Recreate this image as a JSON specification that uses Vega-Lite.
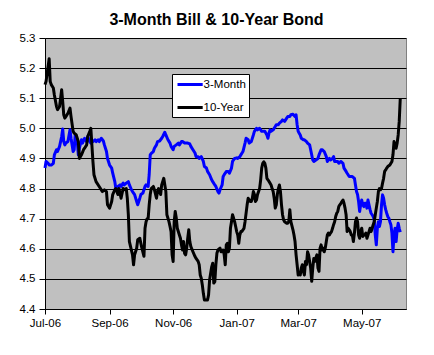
{
  "$schema": "https://vega.github.io/schema/vega-lite/v6.json",
  "width": 361,
  "height": 271,
  "autosize": {"type": "none"},
  "padding": {"left": 45, "top": 38, "right": 28, "bottom": 46},
  "background": "white",
  "config": {
    "font": "Liberation Sans",
    "view": {"fill": "#C0C0C0", "stroke": "#808080", "strokeWidth": 1}
  },
  "title": {
    "text": "3-Month Bill & 10-Year Bond",
    "font": "Liberation Sans",
    "fontSize": 16,
    "fontWeight": "bold",
    "color": "black",
    "anchor": "middle",
    "frame": "group",
    "dx": -9,
    "offset": 4
  },
  "data": {
    "values": [
      {"series":"3-Month","date":"2006-07-01","yield":4.868},
      {"series":"3-Month","date":"2006-07-02","yield":4.89},
      {"series":"3-Month","date":"2006-07-04","yield":4.884},
      {"series":"3-Month","date":"2006-07-05","yield":4.878},
      {"series":"3-Month","date":"2006-07-07","yield":4.878},
      {"series":"3-Month","date":"2006-07-09","yield":4.884},
      {"series":"3-Month","date":"2006-07-10","yield":4.912},
      {"series":"3-Month","date":"2006-07-12","yield":4.929},
      {"series":"3-Month","date":"2006-07-13","yield":4.923},
      {"series":"3-Month","date":"2006-07-15","yield":4.94},
      {"series":"3-Month","date":"2006-07-17","yield":4.973},
      {"series":"3-Month","date":"2006-07-18","yield":4.998},
      {"series":"3-Month","date":"2006-07-19","yield":4.956},
      {"series":"3-Month","date":"2006-07-20","yield":4.945},
      {"series":"3-Month","date":"2006-07-21","yield":4.951},
      {"series":"3-Month","date":"2006-07-23","yield":4.956},
      {"series":"3-Month","date":"2006-07-25","yield":4.995},
      {"series":"3-Month","date":"2006-07-26","yield":4.967},
      {"series":"3-Month","date":"2006-07-28","yield":4.923},
      {"series":"3-Month","date":"2006-07-29","yield":4.929},
      {"series":"3-Month","date":"2006-07-30","yield":4.978},
      {"series":"3-Month","date":"2006-08-01","yield":4.956},
      {"series":"3-Month","date":"2006-08-02","yield":4.912},
      {"series":"3-Month","date":"2006-08-03","yield":4.934},
      {"series":"3-Month","date":"2006-08-05","yield":4.962},
      {"series":"3-Month","date":"2006-08-06","yield":4.951},
      {"series":"3-Month","date":"2006-08-08","yield":4.967},
      {"series":"3-Month","date":"2006-08-10","yield":4.956},
      {"series":"3-Month","date":"2006-08-11","yield":4.973},
      {"series":"3-Month","date":"2006-08-13","yield":4.956},
      {"series":"3-Month","date":"2006-08-14","yield":4.951},
      {"series":"3-Month","date":"2006-08-16","yield":4.956},
      {"series":"3-Month","date":"2006-08-18","yield":4.962},
      {"series":"3-Month","date":"2006-08-19","yield":4.956},
      {"series":"3-Month","date":"2006-08-21","yield":4.962},
      {"series":"3-Month","date":"2006-08-22","yield":4.956},
      {"series":"3-Month","date":"2006-08-24","yield":4.967},
      {"series":"3-Month","date":"2006-08-26","yield":4.958},
      {"series":"3-Month","date":"2006-08-27","yield":4.945},
      {"series":"3-Month","date":"2006-08-29","yield":4.923},
      {"series":"3-Month","date":"2006-08-30","yield":4.9},
      {"series":"3-Month","date":"2006-09-01","yield":4.878},
      {"series":"3-Month","date":"2006-09-03","yield":4.868},
      {"series":"3-Month","date":"2006-09-04","yield":4.851},
      {"series":"3-Month","date":"2006-09-06","yield":4.823},
      {"series":"3-Month","date":"2006-09-07","yield":4.8},
      {"series":"3-Month","date":"2006-09-09","yield":4.807},
      {"series":"3-Month","date":"2006-09-11","yield":4.812},
      {"series":"3-Month","date":"2006-09-12","yield":4.807},
      {"series":"3-Month","date":"2006-09-14","yield":4.818},
      {"series":"3-Month","date":"2006-09-15","yield":4.812},
      {"series":"3-Month","date":"2006-09-17","yield":4.818},
      {"series":"3-Month","date":"2006-09-19","yield":4.823},
      {"series":"3-Month","date":"2006-09-20","yield":4.812},
      {"series":"3-Month","date":"2006-09-22","yield":4.796},
      {"series":"3-Month","date":"2006-09-23","yield":4.79},
      {"series":"3-Month","date":"2006-09-25","yield":4.78},
      {"series":"3-Month","date":"2006-09-27","yield":4.757},
      {"series":"3-Month","date":"2006-09-28","yield":4.746},
      {"series":"3-Month","date":"2006-09-30","yield":4.768},
      {"series":"3-Month","date":"2006-10-01","yield":4.78},
      {"series":"3-Month","date":"2006-10-03","yield":4.785},
      {"series":"3-Month","date":"2006-10-05","yield":4.807},
      {"series":"3-Month","date":"2006-10-06","yield":4.812},
      {"series":"3-Month","date":"2006-10-08","yield":4.807},
      {"series":"3-Month","date":"2006-10-09","yield":4.846},
      {"series":"3-Month","date":"2006-10-10","yield":4.912},
      {"series":"3-Month","date":"2006-10-11","yield":4.917},
      {"series":"3-Month","date":"2006-10-13","yield":4.923},
      {"series":"3-Month","date":"2006-10-14","yield":4.934},
      {"series":"3-Month","date":"2006-10-16","yield":4.945},
      {"series":"3-Month","date":"2006-10-17","yield":4.956},
      {"series":"3-Month","date":"2006-10-19","yield":4.958},
      {"series":"3-Month","date":"2006-10-21","yield":4.967},
      {"series":"3-Month","date":"2006-10-22","yield":4.973},
      {"series":"3-Month","date":"2006-10-24","yield":4.987},
      {"series":"3-Month","date":"2006-10-25","yield":4.978},
      {"series":"3-Month","date":"2006-10-27","yield":4.962},
      {"series":"3-Month","date":"2006-10-29","yield":4.951},
      {"series":"3-Month","date":"2006-10-30","yield":4.94},
      {"series":"3-Month","date":"2006-11-01","yield":4.929},
      {"series":"3-Month","date":"2006-11-02","yield":4.94},
      {"series":"3-Month","date":"2006-11-04","yield":4.945},
      {"series":"3-Month","date":"2006-11-06","yield":4.951},
      {"series":"3-Month","date":"2006-11-07","yield":4.945},
      {"series":"3-Month","date":"2006-11-09","yield":4.956},
      {"series":"3-Month","date":"2006-11-10","yield":4.956},
      {"series":"3-Month","date":"2006-11-12","yield":4.951},
      {"series":"3-Month","date":"2006-11-14","yield":4.951},
      {"series":"3-Month","date":"2006-11-15","yield":4.951},
      {"series":"3-Month","date":"2006-11-17","yield":4.948},
      {"series":"3-Month","date":"2006-11-18","yield":4.94},
      {"series":"3-Month","date":"2006-11-20","yield":4.929},
      {"series":"3-Month","date":"2006-11-22","yield":4.918},
      {"series":"3-Month","date":"2006-11-23","yield":4.906},
      {"series":"3-Month","date":"2006-11-25","yield":4.906},
      {"series":"3-Month","date":"2006-11-26","yield":4.9},
      {"series":"3-Month","date":"2006-11-28","yield":4.906},
      {"series":"3-Month","date":"2006-11-30","yield":4.89},
      {"series":"3-Month","date":"2006-12-01","yield":4.873},
      {"series":"3-Month","date":"2006-12-03","yield":4.868},
      {"series":"3-Month","date":"2006-12-04","yield":4.857},
      {"series":"3-Month","date":"2006-12-06","yield":4.846},
      {"series":"3-Month","date":"2006-12-08","yield":4.829},
      {"series":"3-Month","date":"2006-12-09","yield":4.823},
      {"series":"3-Month","date":"2006-12-11","yield":4.812},
      {"series":"3-Month","date":"2006-12-12","yield":4.807},
      {"series":"3-Month","date":"2006-12-14","yield":4.79},
      {"series":"3-Month","date":"2006-12-15","yield":4.785},
      {"series":"3-Month","date":"2006-12-16","yield":4.796},
      {"series":"3-Month","date":"2006-12-18","yield":4.812},
      {"series":"3-Month","date":"2006-12-19","yield":4.84},
      {"series":"3-Month","date":"2006-12-20","yield":4.846},
      {"series":"3-Month","date":"2006-12-21","yield":4.851},
      {"series":"3-Month","date":"2006-12-22","yield":4.857},
      {"series":"3-Month","date":"2006-12-24","yield":4.857},
      {"series":"3-Month","date":"2006-12-25","yield":4.851},
      {"series":"3-Month","date":"2006-12-27","yield":4.868},
      {"series":"3-Month","date":"2006-12-28","yield":4.89},
      {"series":"3-Month","date":"2006-12-30","yield":4.9},
      {"series":"3-Month","date":"2007-01-01","yield":4.902},
      {"series":"3-Month","date":"2007-01-02","yield":4.9},
      {"series":"3-Month","date":"2007-01-04","yield":4.906},
      {"series":"3-Month","date":"2007-01-05","yield":4.912},
      {"series":"3-Month","date":"2007-01-07","yield":4.923},
      {"series":"3-Month","date":"2007-01-09","yield":4.951},
      {"series":"3-Month","date":"2007-01-10","yield":4.967},
      {"series":"3-Month","date":"2007-01-12","yield":4.962},
      {"series":"3-Month","date":"2007-01-13","yield":4.951},
      {"series":"3-Month","date":"2007-01-15","yield":4.956},
      {"series":"3-Month","date":"2007-01-17","yield":4.978},
      {"series":"3-Month","date":"2007-01-18","yield":4.99},
      {"series":"3-Month","date":"2007-01-20","yield":5.0},
      {"series":"3-Month","date":"2007-01-21","yield":4.995},
      {"series":"3-Month","date":"2007-01-23","yield":5.0},
      {"series":"3-Month","date":"2007-01-25","yield":4.99},
      {"series":"3-Month","date":"2007-01-27","yield":4.99},
      {"series":"3-Month","date":"2007-01-28","yield":4.99},
      {"series":"3-Month","date":"2007-01-30","yield":4.978},
      {"series":"3-Month","date":"2007-01-31","yield":4.967},
      {"series":"3-Month","date":"2007-02-01","yield":4.984},
      {"series":"3-Month","date":"2007-02-02","yield":4.995},
      {"series":"3-Month","date":"2007-02-03","yield":4.99},
      {"series":"3-Month","date":"2007-02-05","yield":4.995},
      {"series":"3-Month","date":"2007-02-07","yield":5.006},
      {"series":"3-Month","date":"2007-02-08","yield":5.012},
      {"series":"3-Month","date":"2007-02-10","yield":5.012},
      {"series":"3-Month","date":"2007-02-11","yield":5.017},
      {"series":"3-Month","date":"2007-02-13","yield":5.023},
      {"series":"3-Month","date":"2007-02-14","yield":5.028},
      {"series":"3-Month","date":"2007-02-16","yield":5.023},
      {"series":"3-Month","date":"2007-02-18","yield":5.034},
      {"series":"3-Month","date":"2007-02-19","yield":5.039},
      {"series":"3-Month","date":"2007-02-21","yield":5.039},
      {"series":"3-Month","date":"2007-02-22","yield":5.045},
      {"series":"3-Month","date":"2007-02-24","yield":5.047},
      {"series":"3-Month","date":"2007-02-26","yield":5.039},
      {"series":"3-Month","date":"2007-02-27","yield":5.045},
      {"series":"3-Month","date":"2007-02-28","yield":5.012},
      {"series":"3-Month","date":"2007-03-01","yield":4.99},
      {"series":"3-Month","date":"2007-03-02","yield":4.984},
      {"series":"3-Month","date":"2007-03-03","yield":4.978},
      {"series":"3-Month","date":"2007-03-04","yield":4.967},
      {"series":"3-Month","date":"2007-03-06","yield":4.962},
      {"series":"3-Month","date":"2007-03-07","yield":4.962},
      {"series":"3-Month","date":"2007-03-09","yield":4.956},
      {"series":"3-Month","date":"2007-03-10","yield":4.951},
      {"series":"3-Month","date":"2007-03-12","yield":4.945},
      {"series":"3-Month","date":"2007-03-13","yield":4.929},
      {"series":"3-Month","date":"2007-03-15","yield":4.895},
      {"series":"3-Month","date":"2007-03-16","yield":4.89},
      {"series":"3-Month","date":"2007-03-18","yield":4.895},
      {"series":"3-Month","date":"2007-03-20","yield":4.9},
      {"series":"3-Month","date":"2007-03-21","yield":4.912},
      {"series":"3-Month","date":"2007-03-23","yield":4.929},
      {"series":"3-Month","date":"2007-03-24","yield":4.929},
      {"series":"3-Month","date":"2007-03-26","yield":4.923},
      {"series":"3-Month","date":"2007-03-28","yield":4.906},
      {"series":"3-Month","date":"2007-03-29","yield":4.89},
      {"series":"3-Month","date":"2007-03-31","yield":4.9},
      {"series":"3-Month","date":"2007-04-01","yield":4.895},
      {"series":"3-Month","date":"2007-04-03","yield":4.9},
      {"series":"3-Month","date":"2007-04-04","yield":4.906},
      {"series":"3-Month","date":"2007-04-05","yield":4.89},
      {"series":"3-Month","date":"2007-04-06","yield":4.89},
      {"series":"3-Month","date":"2007-04-08","yield":4.89},
      {"series":"3-Month","date":"2007-04-09","yield":4.884},
      {"series":"3-Month","date":"2007-04-11","yield":4.89},
      {"series":"3-Month","date":"2007-04-13","yield":4.884},
      {"series":"3-Month","date":"2007-04-14","yield":4.868},
      {"series":"3-Month","date":"2007-04-16","yield":4.857},
      {"series":"3-Month","date":"2007-04-17","yield":4.851},
      {"series":"3-Month","date":"2007-04-19","yield":4.84},
      {"series":"3-Month","date":"2007-04-21","yield":4.84},
      {"series":"3-Month","date":"2007-04-22","yield":4.84},
      {"series":"3-Month","date":"2007-04-24","yield":4.834},
      {"series":"3-Month","date":"2007-04-25","yield":4.812},
      {"series":"3-Month","date":"2007-04-26","yield":4.79},
      {"series":"3-Month","date":"2007-04-27","yield":4.78},
      {"series":"3-Month","date":"2007-04-28","yield":4.757},
      {"series":"3-Month","date":"2007-04-29","yield":4.724},
      {"series":"3-Month","date":"2007-04-30","yield":4.746},
      {"series":"3-Month","date":"2007-05-01","yield":4.762},
      {"series":"3-Month","date":"2007-05-02","yield":4.746},
      {"series":"3-Month","date":"2007-05-03","yield":4.74},
      {"series":"3-Month","date":"2007-05-04","yield":4.751},
      {"series":"3-Month","date":"2007-05-05","yield":4.751},
      {"series":"3-Month","date":"2007-05-06","yield":4.735},
      {"series":"3-Month","date":"2007-05-07","yield":4.762},
      {"series":"3-Month","date":"2007-05-08","yield":4.746},
      {"series":"3-Month","date":"2007-05-09","yield":4.73},
      {"series":"3-Month","date":"2007-05-10","yield":4.718},
      {"series":"3-Month","date":"2007-05-11","yield":4.713},
      {"series":"3-Month","date":"2007-05-12","yield":4.707},
      {"series":"3-Month","date":"2007-05-13","yield":4.696},
      {"series":"3-Month","date":"2007-05-14","yield":4.646},
      {"series":"3-Month","date":"2007-05-15","yield":4.613},
      {"series":"3-Month","date":"2007-05-16","yield":4.668},
      {"series":"3-Month","date":"2007-05-17","yield":4.69},
      {"series":"3-Month","date":"2007-05-18","yield":4.674},
      {"series":"3-Month","date":"2007-05-19","yield":4.69},
      {"series":"3-Month","date":"2007-05-20","yield":4.746},
      {"series":"3-Month","date":"2007-05-21","yield":4.779},
      {"series":"3-Month","date":"2007-05-22","yield":4.768},
      {"series":"3-Month","date":"2007-05-23","yield":4.746},
      {"series":"3-Month","date":"2007-05-24","yield":4.73},
      {"series":"3-Month","date":"2007-05-25","yield":4.718},
      {"series":"3-Month","date":"2007-05-26","yield":4.707},
      {"series":"3-Month","date":"2007-05-27","yield":4.702},
      {"series":"3-Month","date":"2007-05-28","yield":4.69},
      {"series":"3-Month","date":"2007-05-29","yield":4.68},
      {"series":"3-Month","date":"2007-05-30","yield":4.652},
      {"series":"3-Month","date":"2007-05-31","yield":4.59},
      {"series":"3-Month","date":"2007-06-01","yield":4.646},
      {"series":"3-Month","date":"2007-06-02","yield":4.668},
      {"series":"3-Month","date":"2007-06-03","yield":4.624},
      {"series":"3-Month","date":"2007-06-04","yield":4.663},
      {"series":"3-Month","date":"2007-06-05","yield":4.685},
      {"series":"3-Month","date":"2007-06-06","yield":4.668},
      {"series":"3-Month","date":"2007-06-07","yield":4.655},
      {"series":"10-Year","date":"2006-07-01","yield":5.145},
      {"series":"10-Year","date":"2006-07-02","yield":5.156},
      {"series":"10-Year","date":"2006-07-05","yield":5.231},
      {"series":"10-Year","date":"2006-07-06","yield":5.156},
      {"series":"10-Year","date":"2006-07-07","yield":5.145},
      {"series":"10-Year","date":"2006-07-09","yield":5.134},
      {"series":"10-Year","date":"2006-07-10","yield":5.111},
      {"series":"10-Year","date":"2006-07-12","yield":5.073},
      {"series":"10-Year","date":"2006-07-13","yield":5.062},
      {"series":"10-Year","date":"2006-07-15","yield":5.073},
      {"series":"10-Year","date":"2006-07-17","yield":5.128},
      {"series":"10-Year","date":"2006-07-18","yield":5.089},
      {"series":"10-Year","date":"2006-07-19","yield":5.045},
      {"series":"10-Year","date":"2006-07-20","yield":5.034},
      {"series":"10-Year","date":"2006-07-21","yield":5.039},
      {"series":"10-Year","date":"2006-07-23","yield":5.05},
      {"series":"10-Year","date":"2006-07-25","yield":5.067},
      {"series":"10-Year","date":"2006-07-26","yield":5.039},
      {"series":"10-Year","date":"2006-07-28","yield":4.99},
      {"series":"10-Year","date":"2006-07-29","yield":4.984},
      {"series":"10-Year","date":"2006-07-31","yield":4.978},
      {"series":"10-Year","date":"2006-08-02","yield":4.956},
      {"series":"10-Year","date":"2006-08-03","yield":4.9},
      {"series":"10-Year","date":"2006-08-05","yield":4.912},
      {"series":"10-Year","date":"2006-08-07","yield":4.929},
      {"series":"10-Year","date":"2006-08-08","yield":4.934},
      {"series":"10-Year","date":"2006-08-10","yield":4.945},
      {"series":"10-Year","date":"2006-08-11","yield":4.973},
      {"series":"10-Year","date":"2006-08-13","yield":4.99},
      {"series":"10-Year","date":"2006-08-14","yield":5.0},
      {"series":"10-Year","date":"2006-08-16","yield":4.89},
      {"series":"10-Year","date":"2006-08-17","yield":4.846},
      {"series":"10-Year","date":"2006-08-19","yield":4.823},
      {"series":"10-Year","date":"2006-08-22","yield":4.807},
      {"series":"10-Year","date":"2006-08-24","yield":4.796},
      {"series":"10-Year","date":"2006-08-25","yield":4.79},
      {"series":"10-Year","date":"2006-08-27","yield":4.796},
      {"series":"10-Year","date":"2006-08-29","yield":4.79},
      {"series":"10-Year","date":"2006-08-30","yield":4.746},
      {"series":"10-Year","date":"2006-09-01","yield":4.735},
      {"series":"10-Year","date":"2006-09-03","yield":4.757},
      {"series":"10-Year","date":"2006-09-04","yield":4.78},
      {"series":"10-Year","date":"2006-09-06","yield":4.796},
      {"series":"10-Year","date":"2006-09-07","yield":4.8},
      {"series":"10-Year","date":"2006-09-09","yield":4.78},
      {"series":"10-Year","date":"2006-09-10","yield":4.8},
      {"series":"10-Year","date":"2006-09-12","yield":4.768},
      {"series":"10-Year","date":"2006-09-14","yield":4.8},
      {"series":"10-Year","date":"2006-09-15","yield":4.796},
      {"series":"10-Year","date":"2006-09-17","yield":4.8},
      {"series":"10-Year","date":"2006-09-18","yield":4.768},
      {"series":"10-Year","date":"2006-09-19","yield":4.713},
      {"series":"10-Year","date":"2006-09-20","yield":4.624},
      {"series":"10-Year","date":"2006-09-23","yield":4.58},
      {"series":"10-Year","date":"2006-09-24","yield":4.547},
      {"series":"10-Year","date":"2006-09-25","yield":4.58},
      {"series":"10-Year","date":"2006-09-27","yield":4.602},
      {"series":"10-Year","date":"2006-09-28","yield":4.63},
      {"series":"10-Year","date":"2006-09-30","yield":4.635},
      {"series":"10-Year","date":"2006-10-01","yield":4.618},
      {"series":"10-Year","date":"2006-10-02","yield":4.602},
      {"series":"10-Year","date":"2006-10-04","yield":4.575},
      {"series":"10-Year","date":"2006-10-05","yield":4.668},
      {"series":"10-Year","date":"2006-10-06","yield":4.69},
      {"series":"10-Year","date":"2006-10-07","yield":4.7},
      {"series":"10-Year","date":"2006-10-08","yield":4.7},
      {"series":"10-Year","date":"2006-10-09","yield":4.746},
      {"series":"10-Year","date":"2006-10-10","yield":4.78},
      {"series":"10-Year","date":"2006-10-11","yield":4.8},
      {"series":"10-Year","date":"2006-10-13","yield":4.807},
      {"series":"10-Year","date":"2006-10-14","yield":4.796},
      {"series":"10-Year","date":"2006-10-16","yield":4.768},
      {"series":"10-Year","date":"2006-10-17","yield":4.79},
      {"series":"10-Year","date":"2006-10-18","yield":4.8},
      {"series":"10-Year","date":"2006-10-20","yield":4.78},
      {"series":"10-Year","date":"2006-10-21","yield":4.812},
      {"series":"10-Year","date":"2006-10-23","yield":4.834},
      {"series":"10-Year","date":"2006-10-25","yield":4.79},
      {"series":"10-Year","date":"2006-10-26","yield":4.713},
      {"series":"10-Year","date":"2006-10-28","yield":4.69},
      {"series":"10-Year","date":"2006-10-29","yield":4.674},
      {"series":"10-Year","date":"2006-10-30","yield":4.657},
      {"series":"10-Year","date":"2006-10-31","yield":4.58},
      {"series":"10-Year","date":"2006-11-01","yield":4.558},
      {"series":"10-Year","date":"2006-11-02","yield":4.69},
      {"series":"10-Year","date":"2006-11-03","yield":4.724},
      {"series":"10-Year","date":"2006-11-04","yield":4.702},
      {"series":"10-Year","date":"2006-11-05","yield":4.668},
      {"series":"10-Year","date":"2006-11-07","yield":4.646},
      {"series":"10-Year","date":"2006-11-08","yield":4.635},
      {"series":"10-Year","date":"2006-11-09","yield":4.613},
      {"series":"10-Year","date":"2006-11-10","yield":4.596},
      {"series":"10-Year","date":"2006-11-11","yield":4.624},
      {"series":"10-Year","date":"2006-11-12","yield":4.585},
      {"series":"10-Year","date":"2006-11-13","yield":4.58},
      {"series":"10-Year","date":"2006-11-14","yield":4.602},
      {"series":"10-Year","date":"2006-11-15","yield":4.635},
      {"series":"10-Year","date":"2006-11-16","yield":4.663},
      {"series":"10-Year","date":"2006-11-17","yield":4.624},
      {"series":"10-Year","date":"2006-11-18","yield":4.607},
      {"series":"10-Year","date":"2006-11-20","yield":4.59},
      {"series":"10-Year","date":"2006-11-22","yield":4.574},
      {"series":"10-Year","date":"2006-11-23","yield":4.568},
      {"series":"10-Year","date":"2006-11-25","yield":4.558},
      {"series":"10-Year","date":"2006-11-26","yield":4.547},
      {"series":"10-Year","date":"2006-11-27","yield":4.513},
      {"series":"10-Year","date":"2006-11-28","yield":4.502},
      {"series":"10-Year","date":"2006-11-29","yield":4.48},
      {"series":"10-Year","date":"2006-11-30","yield":4.452},
      {"series":"10-Year","date":"2006-12-01","yield":4.43},
      {"series":"10-Year","date":"2006-12-03","yield":4.43},
      {"series":"10-Year","date":"2006-12-04","yield":4.43},
      {"series":"10-Year","date":"2006-12-05","yield":4.447},
      {"series":"10-Year","date":"2006-12-06","yield":4.497},
      {"series":"10-Year","date":"2006-12-08","yield":4.54},
      {"series":"10-Year","date":"2006-12-09","yield":4.552},
      {"series":"10-Year","date":"2006-12-10","yield":4.486},
      {"series":"10-Year","date":"2006-12-11","yield":4.491},
      {"series":"10-Year","date":"2006-12-12","yield":4.547},
      {"series":"10-Year","date":"2006-12-13","yield":4.585},
      {"series":"10-Year","date":"2006-12-14","yield":4.596},
      {"series":"10-Year","date":"2006-12-16","yield":4.602},
      {"series":"10-Year","date":"2006-12-17","yield":4.59},
      {"series":"10-Year","date":"2006-12-19","yield":4.596},
      {"series":"10-Year","date":"2006-12-20","yield":4.58},
      {"series":"10-Year","date":"2006-12-21","yield":4.547},
      {"series":"10-Year","date":"2006-12-22","yield":4.613},
      {"series":"10-Year","date":"2006-12-23","yield":4.618},
      {"series":"10-Year","date":"2006-12-24","yield":4.59},
      {"series":"10-Year","date":"2006-12-25","yield":4.602},
      {"series":"10-Year","date":"2006-12-26","yield":4.668},
      {"series":"10-Year","date":"2006-12-27","yield":4.69},
      {"series":"10-Year","date":"2006-12-28","yield":4.713},
      {"series":"10-Year","date":"2006-12-29","yield":4.702},
      {"series":"10-Year","date":"2006-12-30","yield":4.69},
      {"series":"10-Year","date":"2006-12-31","yield":4.674},
      {"series":"10-Year","date":"2007-01-01","yield":4.657},
      {"series":"10-Year","date":"2007-01-02","yield":4.646},
      {"series":"10-Year","date":"2007-01-03","yield":4.618},
      {"series":"10-Year","date":"2007-01-04","yield":4.646},
      {"series":"10-Year","date":"2007-01-05","yield":4.657},
      {"series":"10-Year","date":"2007-01-06","yield":4.657},
      {"series":"10-Year","date":"2007-01-07","yield":4.663},
      {"series":"10-Year","date":"2007-01-08","yield":4.668},
      {"series":"10-Year","date":"2007-01-09","yield":4.69},
      {"series":"10-Year","date":"2007-01-11","yield":4.746},
      {"series":"10-Year","date":"2007-01-12","yield":4.768},
      {"series":"10-Year","date":"2007-01-13","yield":4.762},
      {"series":"10-Year","date":"2007-01-14","yield":4.757},
      {"series":"10-Year","date":"2007-01-15","yield":4.757},
      {"series":"10-Year","date":"2007-01-16","yield":4.768},
      {"series":"10-Year","date":"2007-01-17","yield":4.79},
      {"series":"10-Year","date":"2007-01-18","yield":4.78},
      {"series":"10-Year","date":"2007-01-19","yield":4.757},
      {"series":"10-Year","date":"2007-01-20","yield":4.762},
      {"series":"10-Year","date":"2007-01-21","yield":4.78},
      {"series":"10-Year","date":"2007-01-22","yield":4.79},
      {"series":"10-Year","date":"2007-01-23","yield":4.8},
      {"series":"10-Year","date":"2007-01-24","yield":4.829},
      {"series":"10-Year","date":"2007-01-25","yield":4.868},
      {"series":"10-Year","date":"2007-01-26","yield":4.884},
      {"series":"10-Year","date":"2007-01-27","yield":4.889},
      {"series":"10-Year","date":"2007-01-28","yield":4.884},
      {"series":"10-Year","date":"2007-01-29","yield":4.868},
      {"series":"10-Year","date":"2007-01-30","yield":4.834},
      {"series":"10-Year","date":"2007-01-31","yield":4.829},
      {"series":"10-Year","date":"2007-02-02","yield":4.818},
      {"series":"10-Year","date":"2007-02-03","yield":4.812},
      {"series":"10-Year","date":"2007-02-04","yield":4.8},
      {"series":"10-Year","date":"2007-02-05","yield":4.79},
      {"series":"10-Year","date":"2007-02-06","yield":4.768},
      {"series":"10-Year","date":"2007-02-07","yield":4.735},
      {"series":"10-Year","date":"2007-02-08","yield":4.746},
      {"series":"10-Year","date":"2007-02-09","yield":4.78},
      {"series":"10-Year","date":"2007-02-10","yield":4.8},
      {"series":"10-Year","date":"2007-02-11","yield":4.812},
      {"series":"10-Year","date":"2007-02-12","yield":4.79},
      {"series":"10-Year","date":"2007-02-13","yield":4.746},
      {"series":"10-Year","date":"2007-02-14","yield":4.713},
      {"series":"10-Year","date":"2007-02-15","yield":4.696},
      {"series":"10-Year","date":"2007-02-16","yield":4.69},
      {"series":"10-Year","date":"2007-02-18","yield":4.685},
      {"series":"10-Year","date":"2007-02-19","yield":4.685},
      {"series":"10-Year","date":"2007-02-20","yield":4.69},
      {"series":"10-Year","date":"2007-02-21","yield":4.73},
      {"series":"10-Year","date":"2007-02-22","yield":4.69},
      {"series":"10-Year","date":"2007-02-24","yield":4.663},
      {"series":"10-Year","date":"2007-02-25","yield":4.646},
      {"series":"10-Year","date":"2007-02-26","yield":4.624},
      {"series":"10-Year","date":"2007-02-27","yield":4.58},
      {"series":"10-Year","date":"2007-02-28","yield":4.547},
      {"series":"10-Year","date":"2007-03-01","yield":4.513},
      {"series":"10-Year","date":"2007-03-02","yield":4.519},
      {"series":"10-Year","date":"2007-03-03","yield":4.513},
      {"series":"10-Year","date":"2007-03-04","yield":4.536},
      {"series":"10-Year","date":"2007-03-05","yield":4.547},
      {"series":"10-Year","date":"2007-03-06","yield":4.525},
      {"series":"10-Year","date":"2007-03-07","yield":4.513},
      {"series":"10-Year","date":"2007-03-08","yield":4.558},
      {"series":"10-Year","date":"2007-03-09","yield":4.547},
      {"series":"10-Year","date":"2007-03-10","yield":4.59},
      {"series":"10-Year","date":"2007-03-11","yield":4.58},
      {"series":"10-Year","date":"2007-03-12","yield":4.558},
      {"series":"10-Year","date":"2007-03-13","yield":4.536},
      {"series":"10-Year","date":"2007-03-14","yield":4.492},
      {"series":"10-Year","date":"2007-03-15","yield":4.536},
      {"series":"10-Year","date":"2007-03-16","yield":4.568},
      {"series":"10-Year","date":"2007-03-17","yield":4.558},
      {"series":"10-Year","date":"2007-03-18","yield":4.57},
      {"series":"10-Year","date":"2007-03-19","yield":4.58},
      {"series":"10-Year","date":"2007-03-20","yield":4.536},
      {"series":"10-Year","date":"2007-03-21","yield":4.525},
      {"series":"10-Year","date":"2007-03-22","yield":4.602},
      {"series":"10-Year","date":"2007-03-23","yield":4.613},
      {"series":"10-Year","date":"2007-03-24","yield":4.596},
      {"series":"10-Year","date":"2007-03-25","yield":4.602},
      {"series":"10-Year","date":"2007-03-26","yield":4.59},
      {"series":"10-Year","date":"2007-03-27","yield":4.602},
      {"series":"10-Year","date":"2007-03-28","yield":4.624},
      {"series":"10-Year","date":"2007-03-29","yield":4.646},
      {"series":"10-Year","date":"2007-03-30","yield":4.652},
      {"series":"10-Year","date":"2007-03-31","yield":4.646},
      {"series":"10-Year","date":"2007-04-01","yield":4.652},
      {"series":"10-Year","date":"2007-04-02","yield":4.657},
      {"series":"10-Year","date":"2007-04-03","yield":4.668},
      {"series":"10-Year","date":"2007-04-04","yield":4.68},
      {"series":"10-Year","date":"2007-04-05","yield":4.69},
      {"series":"10-Year","date":"2007-04-06","yield":4.707},
      {"series":"10-Year","date":"2007-04-07","yield":4.718},
      {"series":"10-Year","date":"2007-04-08","yield":4.724},
      {"series":"10-Year","date":"2007-04-09","yield":4.74},
      {"series":"10-Year","date":"2007-04-10","yield":4.746},
      {"series":"10-Year","date":"2007-04-11","yield":4.751},
      {"series":"10-Year","date":"2007-04-12","yield":4.757},
      {"series":"10-Year","date":"2007-04-13","yield":4.762},
      {"series":"10-Year","date":"2007-04-14","yield":4.751},
      {"series":"10-Year","date":"2007-04-15","yield":4.735},
      {"series":"10-Year","date":"2007-04-16","yield":4.713},
      {"series":"10-Year","date":"2007-04-17","yield":4.657},
      {"series":"10-Year","date":"2007-04-18","yield":4.668},
      {"series":"10-Year","date":"2007-04-19","yield":4.663},
      {"series":"10-Year","date":"2007-04-20","yield":4.657},
      {"series":"10-Year","date":"2007-04-21","yield":4.646},
      {"series":"10-Year","date":"2007-04-22","yield":4.646},
      {"series":"10-Year","date":"2007-04-23","yield":4.624},
      {"series":"10-Year","date":"2007-04-24","yield":4.652},
      {"series":"10-Year","date":"2007-04-25","yield":4.69},
      {"series":"10-Year","date":"2007-04-26","yield":4.702},
      {"series":"10-Year","date":"2007-04-27","yield":4.69},
      {"series":"10-Year","date":"2007-04-28","yield":4.646},
      {"series":"10-Year","date":"2007-04-29","yield":4.635},
      {"series":"10-Year","date":"2007-04-30","yield":4.657},
      {"series":"10-Year","date":"2007-05-01","yield":4.668},
      {"series":"10-Year","date":"2007-05-02","yield":4.641},
      {"series":"10-Year","date":"2007-05-03","yield":4.646},
      {"series":"10-Year","date":"2007-05-04","yield":4.646},
      {"series":"10-Year","date":"2007-05-05","yield":4.652},
      {"series":"10-Year","date":"2007-05-06","yield":4.635},
      {"series":"10-Year","date":"2007-05-07","yield":4.646},
      {"series":"10-Year","date":"2007-05-08","yield":4.657},
      {"series":"10-Year","date":"2007-05-09","yield":4.668},
      {"series":"10-Year","date":"2007-05-10","yield":4.657},
      {"series":"10-Year","date":"2007-05-11","yield":4.668},
      {"series":"10-Year","date":"2007-05-12","yield":4.68},
      {"series":"10-Year","date":"2007-05-13","yield":4.69},
      {"series":"10-Year","date":"2007-05-14","yield":4.713},
      {"series":"10-Year","date":"2007-05-15","yield":4.735},
      {"series":"10-Year","date":"2007-05-16","yield":4.757},
      {"series":"10-Year","date":"2007-05-17","yield":4.79},
      {"series":"10-Year","date":"2007-05-18","yield":4.8},
      {"series":"10-Year","date":"2007-05-19","yield":4.796},
      {"series":"10-Year","date":"2007-05-20","yield":4.8},
      {"series":"10-Year","date":"2007-05-21","yield":4.818},
      {"series":"10-Year","date":"2007-05-22","yield":4.834},
      {"series":"10-Year","date":"2007-05-23","yield":4.857},
      {"series":"10-Year","date":"2007-05-24","yield":4.862},
      {"series":"10-Year","date":"2007-05-25","yield":4.868},
      {"series":"10-Year","date":"2007-05-26","yield":4.873},
      {"series":"10-Year","date":"2007-05-28","yield":4.878},
      {"series":"10-Year","date":"2007-05-29","yield":4.884},
      {"series":"10-Year","date":"2007-05-30","yield":4.89},
      {"series":"10-Year","date":"2007-05-31","yield":4.912},
      {"series":"10-Year","date":"2007-06-01","yield":4.956},
      {"series":"10-Year","date":"2007-06-02","yield":4.945},
      {"series":"10-Year","date":"2007-06-03","yield":4.934},
      {"series":"10-Year","date":"2007-06-04","yield":4.951},
      {"series":"10-Year","date":"2007-06-05","yield":4.978},
      {"series":"10-Year","date":"2007-06-06","yield":5.023},
      {"series":"10-Year","date":"2007-06-07","yield":5.1}
    ]
  },
  "mark": {"type": "line", "strokeWidth": 3, "strokeJoin": "round"},
  "encoding": {
    "x": {
      "field": "date",
      "type": "temporal",
      "scale": {
        "type": "utc",
        "domain": [
          {"year": 2006, "month": 7, "date": 1, "utc": true},
          {"year": 2007, "month": 6, "date": 12, "hours": 12, "utc": true}
        ]
      },
      "axis": {
        "title": null,
        "format": "%b-%y",
        "values": [
          {"year": 2006, "month": 7, "date": 1, "utc": true},
          {"year": 2006, "month": 9, "date": 1, "utc": true},
          {"year": 2006, "month": 11, "date": 1, "utc": true},
          {"year": 2007, "month": 1, "date": 1, "utc": true},
          {"year": 2007, "month": 3, "date": 1, "utc": true},
          {"year": 2007, "month": 5, "date": 1, "utc": true}
        ],
        "grid": false,
        "domainColor": "black",
        "tickColor": "black",
        "tickSize": 5,
        "labelFont": "Liberation Sans",
        "labelFontSize": 11.5,
        "labelColor": "black",
        "labelPadding": 3,
        "labelFlush": false
      }
    },
    "y": {
      "field": "yield",
      "type": "quantitative",
      "scale": {"domain": [4.4, 5.3], "zero": false, "nice": false},
      "axis": {
        "title": null,
        "values": [4.4, 4.5, 4.6, 4.7, 4.8, 4.9, 5.0, 5.1, 5.2, 5.3],
        "format": ".1f",
        "grid": true,
        "gridColor": "black",
        "gridOpacity": 1,
        "gridWidth": 1,
        "domainColor": "black",
        "tickColor": "black",
        "tickSize": 6,
        "labelFont": "Liberation Sans",
        "labelFontSize": 11.5,
        "labelColor": "black",
        "labelPadding": 4,
        "labelFlush": false
      }
    },
    "color": {
      "field": "series",
      "type": "nominal",
      "scale": {"domain": ["3-Month", "10-Year"], "range": ["#0000FF", "#000000"]},
      "legend": {
        "title": null,
        "orient": "none",
        "legendX": 127,
        "legendY": 36,
        "direction": "vertical",
        "fillColor": "white",
        "strokeColor": "black",
        "padding": 3,
        "cornerRadius": 0,
        "symbolType": "M-2.1,0H2.1",
        "symbolSize": 144,
        "symbolStrokeWidth": 3,
        "symbolOffset": 7.6,
        "labelOffset": 6,
        "labelFont": "Liberation Sans",
        "labelFontSize": 11.5,
        "labelColor": "black",
        "rowPadding": 9
      }
    }
  }
}
